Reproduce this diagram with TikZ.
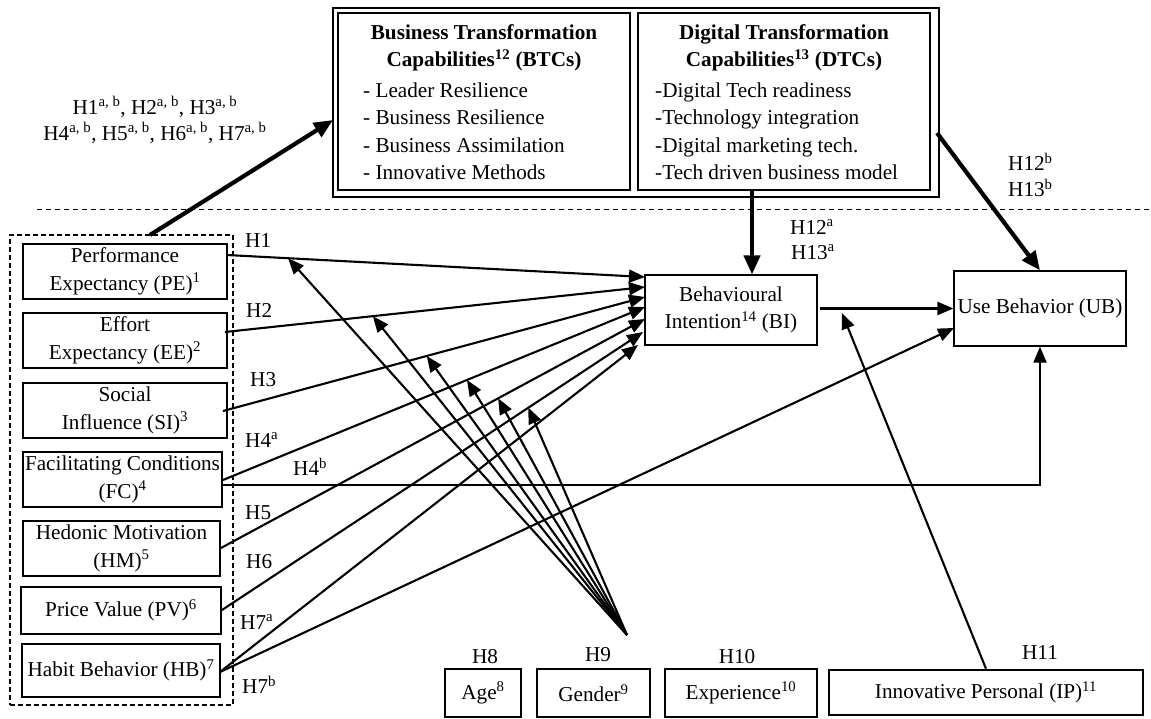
\documentclass[tikz,border=0pt]{standalone}
\usepackage{fontspec}
\setmainfont{Liberation Serif}
\usetikzlibrary{arrows.meta,calc}
\newcommand{\myfs}{\fontsize{21.2}{27.5}\selectfont}
\begin{document}
\begin{tikzpicture}[x=1pt,y=-1pt,
  font=\myfs,
  box/.style={draw,line width=1.2pt,align=center,inner sep=0pt,font=\myfs},
  capbox/.style={draw,line width=2.6pt,inner sep=0pt,minimum width=292pt,minimum height=177pt},
  txt/.style={inner sep=0pt,font=\myfs},
  boldtxt/.style={inner sep=0pt,align=center,font=\myfs\bfseries},
  lab/.style={inner sep=0pt,anchor=west,font=\myfs},
  conn/.style={line width=2.1pt,-{Triangle[length=16pt,width=13pt]}},
  bigarrow/.style={line width=4.2pt,-{Triangle[length=19pt,width=16pt]}},
  sep/.style={line width=1pt,dash pattern=on 5pt off 4pt},
  grpbox/.style={draw,line width=1.4pt,dash pattern=on 5pt off 3pt,inner sep=0pt},
]
\useasboundingbox (0,0) rectangle (1151,718);

% ---------- top capability boxes ----------
\node[draw,line width=1.2pt,inner sep=0pt,minimum width=606pt,minimum height=189pt] (outer) at (636,102.5) {};
\node[capbox] (btc) at (484,101.5) {};
\node[capbox] (dtc) at (784,101.5) {};
\node[boldtxt] (btct) at (484,48) {Business Transformation\\Capabilities\textsuperscript{12} (BTCs)};
\node[txt,anchor=west,align=left] (btcl) at (363,131) {- Leader Resilience\\- Business Resilience\\- Business Assimilation\\- Innovative Methods};
\node[boldtxt] (dtct) at (784,48) {Digital Transformation\\Capabilities\textsuperscript{13} (DTCs)};
\node[txt,anchor=west,align=left] (dtcl) at (655,131) {-Digital Tech readiness\\-Technology integration\\-Digital marketing tech.\\-Tech driven business model};

\node[txt] (hl1) at (155,107) {H1\textsuperscript{a, b}, H2\textsuperscript{a, b}, H3\textsuperscript{a, b}};
\node[txt] (hl2) at (155,133) {H4\textsuperscript{a, b}, H5\textsuperscript{a, b}, H6\textsuperscript{a, b}, H7\textsuperscript{a, b}};

% separator
\coordinate (s1) at (37,209);
\coordinate (s2) at (1151,209);
\draw[sep] (s1) -- (s2);

% ---------- left group ----------
\node[grpbox,minimum width=223pt,minimum height=470pt] (grp) at (121.5,470) {};
\node[box,minimum width=204pt,minimum height=55pt] (pe) at (125,271.5) {Performance\\Expectancy (PE)\textsuperscript{1}};
\node[box,minimum width=204pt,minimum height=55pt] (ee) at (125,340.5) {Effort\\Expectancy (EE)\textsuperscript{2}};
\node[box,minimum width=204pt,minimum height=55pt] (si) at (125,410.5) {Social\\Influence (SI)\textsuperscript{3}};
\node[box,minimum width=199pt,minimum height=55pt] (fc) at (122.5,479.5) {Facilitating Conditions\\(FC)\textsuperscript{4}};
\node[box,minimum width=197pt,minimum height=55pt] (hm) at (121.5,548.5) {Hedonic Motivation\\(HM)\textsuperscript{5}};
\node[box,minimum width=200pt,minimum height=47pt] (pv) at (121,610.5) {Price Value (PV)\textsuperscript{6}};
\node[box,minimum width=198pt,minimum height=53pt] (hb) at (121,670.5) {Habit Behavior (HB)\textsuperscript{7}};

% ---------- central / right boxes ----------
\node[box,minimum width=172pt,minimum height=70pt] (bi) at (731,310) {Behavioural\\Intention\textsuperscript{14} (BI)};
\node[box,minimum width=172pt,minimum height=75pt] (ub) at (1040,308.5) {Use Behavior (UB)};

% ---------- bottom boxes ----------
\node[box,minimum width=76pt,minimum height=48pt] (age) at (483,693) {Age\textsuperscript{8}};
\node[box,minimum width=113pt,minimum height=48pt] (gen) at (593.5,693) {Gender\textsuperscript{9}};
\node[box,minimum width=152pt,minimum height=48pt] (exp) at (741,693) {Experience\textsuperscript{10}};
\node[box,line width=2.6pt,minimum width=314pt,minimum height=45pt] (ip) at (986,692.5) {Innovative Personal (IP)\textsuperscript{11}};

\node[txt] (h8) at (485,657) {H8};
\node[txt] (h9) at (598,655) {H9};
\node[txt] (h10) at (737,657) {H10};
\node[txt] (h11) at (1040,652) {H11};

% ---------- hypothesis labels ----------
\node[lab] (lh1) at (245,240) {H1};
\node[lab] (lh2) at (246,310) {H2};
\node[lab] (lh3) at (250,380) {H3};
\node[lab] (lh4a) at (245,440) {H4\textsuperscript{a}};
\node[lab] (lh4b) at (293,467) {H4\textsuperscript{b}};
\node[lab] (lh5) at (245,513) {H5};
\node[lab] (lh6) at (246,562) {H6};
\node[lab] (lh7a) at (240,622) {H7\textsuperscript{a}};
\node[lab] (lh7b) at (242,685) {H7\textsuperscript{b}};
\node[lab] (lh12a) at (790,227) {H12\textsuperscript{a}};
\node[lab] (lh13a) at (791,252) {H13\textsuperscript{a}};
\node[lab] (lh12b) at (1008,162) {H12\textsuperscript{b}};
\node[lab] (lh13b) at (1008,188) {H13\textsuperscript{b}};

% ---------- connector end points ----------
\coordinate (peS) at (227,255);
\coordinate (eeS) at (225,332);
\coordinate (siS) at (223,411);
\coordinate (fcS) at (223,480);
\coordinate (fcS2) at (223,485);
\coordinate (hmS) at (221,548);
\coordinate (pvS) at (222,610);
\coordinate (hbS) at (220,672);

\coordinate (biA) at (645,277);
\coordinate (biB) at (645,287);
\coordinate (biC) at (645,297);
\coordinate (biD) at (645,307);
\coordinate (biE) at (645,319);
\coordinate (biF) at (643,332);
\coordinate (biG) at (638,345);

\draw[conn] (peS) -- (biA);
\draw[conn] (eeS) -- (biB);
\draw[conn] (siS) -- (biC);
\draw[conn] (fcS) -- (biD);
\draw[conn] (hmS) -- (biE);
\draw[conn] (pvS) -- (biF);
\draw[conn] (hbS) -- (biG);

% FC -> UB, HB -> UB
\draw[conn] (fcS2) -| (ub.south);
\coordinate (ubL) at (954,328);
\draw[conn] (hbS) -- (ubL);

% BI -> UB
\coordinate (biR) at (820,308.5);
\draw[conn] (biR) -- (ub.west);

% moderators fan (from below)
\coordinate (fan) at (627,635);
\coordinate (m1) at ($(peS)!(288,260)!(biA)$);
\coordinate (m2) at ($(eeS)!(373,317)!(biB)$);
\coordinate (m3) at ($(siS)!(427,357)!(biC)$);
\coordinate (m4) at ($(fcS)!(467,380)!(biD)$);
\coordinate (m5) at ($(hmS)!(498,398)!(biE)$);
\coordinate (m6) at ($(pvS)!(528,407)!(biF)$);
\foreach \m in {m1,m2,m3,m4,m5,m6}
  \draw[conn] (fan) -- (\m);

% IP moderation
\coordinate (ipTip) at (842,313);
\draw[conn] (ip.north) -- (ipTip);

% thick arrows
\coordinate (grpT) at (150,235);
\coordinate (outL) at (333,120);
\draw[bigarrow] (grpT) -- (outL);
\coordinate (dtcB) at (752,190);
\draw[bigarrow] (dtcB) -- (dtcB |- bi.north);
\coordinate (dtcR) at (937,133);
\draw[bigarrow] (dtcR) -- (ub.north);
\end{tikzpicture}
\end{document}
